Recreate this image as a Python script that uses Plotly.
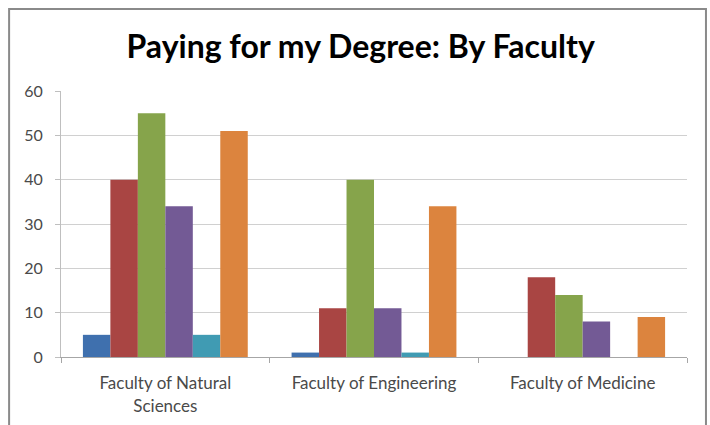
import plotly.graph_objects as go

# Datos
facultades = ["Faculty of Natural<br>Sciences", "Faculty of Engineering", "Faculty of Medicine"]
serie_1 = [5, 1, None]
serie_2 = [40, 11, 18]
serie_3 = [55, 40, 14]
serie_4 = [34, 11, 8]
serie_5 = [5, 1, None]
serie_6 = [51, 34, 9]
colores = ['#3f70ae', '#a94543', '#86a44b', '#735a95', '#409bb3', '#dc843e']

series = [serie_1, serie_2, serie_3, serie_4, serie_5, serie_6]

fig = go.Figure()
for i, valores in enumerate(series):
    fig.add_trace(go.Bar(x=facultades, y=valores, name=f'Series{i + 1}',
                         marker=dict(color=colores[i], line=dict(width=0))))

fig.update_layout(
    width=710, height=425,
    margin=dict(l=61, r=23, t=91, b=68),
    paper_bgcolor='white', plot_bgcolor='white',
    showlegend=False,
    barmode='group', bargap=0.21, bargroupgap=0,
    font=dict(family='Lato', color='#4a4a4a'),
    title=dict(text='<b>Paying for my Degree: By Faculty</b>', x=0.508, xanchor='center',
               y=0.889, yanchor='middle',
               font=dict(family='Lato', size=32, color='black')),
)
fig.update_xaxes(showline=True, linecolor='#a6a6a6', linewidth=1, automargin=False,
                 ticks='outside', tickson='boundaries', ticklen=5, tickcolor='#a6a6a6',
                 tickfont=dict(size=17, color='#4a4a4a'), showgrid=False,
                 ticklabelstandoff=11)
fig.update_yaxes(range=[0, 60], dtick=10, showline=True, linecolor='#bfbfbf', linewidth=1,
                 automargin=False, ticks='outside', ticklen=5, tickcolor='#bfbfbf',
                 gridcolor='#d0d0d0', gridwidth=1, zeroline=False,
                 tickfont=dict(size=16, color='#4a4a4a'), ticklabelstandoff=9)

# marco gris del gráfico
fig.add_shape(type='rect', xref='paper', yref='paper',
              x0=-0.0829, x1=1.0303, y0=-0.4, y1=1.308,
              line=dict(color='#8a8a8a', width=2), layer='below')

fig.write_html("out.html", config={'displayModeBar': False},
               post_script="document.body.style.margin='0';")
